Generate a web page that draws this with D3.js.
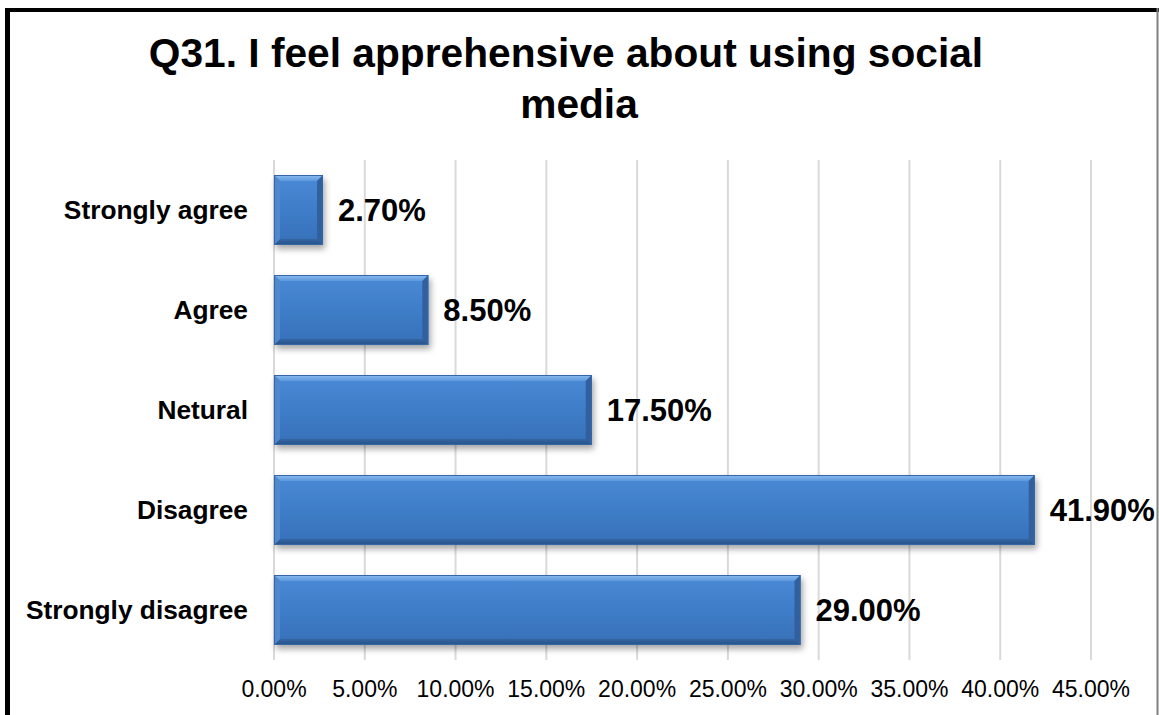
<!DOCTYPE html>
<html>
<head>
<meta charset="utf-8">
<script src="https://cdn.jsdelivr.net/npm/d3@7"></script>
<style>
	html, body { margin: 0; padding: 0; background: #fff; }
	svg { display: block; font-family: "Liberation Sans", Arial, sans-serif; }
</style>
</head>
<body>
<svg id="chart"></svg>
<script>
const width = 1159;
const height = 715;

// survey answers, top to bottom
const categories = ["Strongly agree", "Agree", "Netural", "Disagree", "Strongly disagree"];
const shares = [2.7, 8.5, 17.5, 41.9, 29.0];
const tickValues = [0, 5, 10, 15, 20, 25, 30, 35, 40, 45];
const titleLines = ["Q31. I feel apprehensive about using social", "media"];

const rows = categories.map((c, i) => ({ label: c, value: shares[i] }));

const svg = d3.select("#chart").attr("width", width).attr("height", height);

const x = d3.scaleLinear().domain([0, 45]).range([274, 1091]);
const y = d3.scaleBand().domain(categories).range([160, 660])
	.paddingInner(0.3).paddingOuter(0.15);

const defs = svg.append("defs");

const shadow = defs.append("filter").attr("id", "barShadow")
	.attr("x", "-10%").attr("y", "-20%").attr("width", "130%").attr("height", "160%");
shadow.append("feDropShadow")
	.attr("dx", 2).attr("dy", 4).attr("stdDeviation", 3)
	.attr("flood-color", "#000").attr("flood-opacity", 0.35);

function gradient(id, stops) {
	const g = defs.append("linearGradient").attr("id", id)
		.attr("x1", 0).attr("y1", 0).attr("x2", 0).attr("y2", 1);
	stops.forEach(([o, c]) => g.append("stop").attr("offset", o).attr("stop-color", c));
}
gradient("faceFill", [[0, "#4a8ad6"], [0.5, "#3f7dc8"], [1, "#3670b8"]]);
gradient("topBevel", [[0, "#8cbcf0"], [1, "#5c98dc"]]);
gradient("bottomBevel", [[0, "#33649f"], [1, "#27538a"]]);

// frame
svg.append("line").attr("x1", 7.5).attr("x2", 7.5).attr("y1", 8).attr("y2", height)
	.attr("stroke", "#000").attr("stroke-width", 5);
svg.append("line").attr("x1", 5).attr("x2", 1159).attr("y1", 10).attr("y2", 10)
	.attr("stroke", "#000").attr("stroke-width", 4);
svg.append("line").attr("x1", 1157.5).attr("x2", 1157.5).attr("y1", 8).attr("y2", height)
	.attr("stroke", "#7f7f7f").attr("stroke-width", 2);

// title
svg.append("text")
	.attr("text-anchor", "middle")
	.attr("font-size", 40.7)
	.attr("font-weight", "bold")
	.selectAll("tspan")
	.data(titleLines)
	.join("tspan")
	.attr("x", (d, i) => (i === 0 ? 566 : 579))
	.attr("y", (d, i) => 67 + i * 51)
	.text((d) => d);

// vertical gridlines
svg.append("g")
	.selectAll("line")
	.data(tickValues)
	.join("line")
	.attr("x1", (d) => x(d))
	.attr("x2", (d) => x(d))
	.attr("y1", 160)
	.attr("y2", 660)
	.attr("stroke", "#d9d9d9")
	.attr("stroke-width", 2);

// x tick labels
svg.append("g")
	.selectAll("text")
	.data(tickValues)
	.join("text")
	.attr("x", (d) => x(d))
	.attr("y", 697)
	.attr("text-anchor", "middle")
	.attr("font-size", 23)
	.attr("fill", "#000")
	.text((d) => d.toFixed(2) + "%");

// category labels
svg.append("g")
	.selectAll("text")
	.data(rows)
	.join("text")
	.attr("x", 248)
	.attr("y", (d) => y(d.label) + y.bandwidth() / 2 + 9)
	.attr("text-anchor", "end")
	.attr("font-size", 26.3)
	.attr("font-weight", "bold")
	.text((d) => d.label);

// bevelled bars
const bevel = 6;
const bars = svg.append("g")
	.selectAll("g")
	.data(rows)
	.join("g")
	.attr("filter", "url(#barShadow)");

bars.each(function (d) {
	const g = d3.select(this);
	const x0 = x(0), x1 = x(d.value);
	const y0 = y(d.label), y1 = y0 + y.bandwidth();
	const b = Math.min(bevel, (x1 - x0) / 2);
	g.append("rect")
		.attr("x", x0).attr("y", y0)
		.attr("width", x1 - x0).attr("height", y1 - y0)
		.attr("fill", "url(#faceFill)");
	const poly = (pts, fill) => g.append("polygon")
		.attr("points", pts.map((p) => p.join(",")).join(" "))
		.attr("fill", fill);
	poly([[x0, y0], [x1, y0], [x1 - b, y0 + b], [x0 + b, y0 + b]], "url(#topBevel)");
	poly([[x0, y1], [x1, y1], [x1 - b, y1 - b], [x0 + b, y1 - b]], "url(#bottomBevel)");
	poly([[x0, y0], [x0 + b, y0 + b], [x0 + b, y1 - b], [x0, y1]], "#4f88cc");
	poly([[x1, y0], [x1 - b, y0 + b], [x1 - b, y1 - b], [x1, y1]], "#30619e");
	g.append("rect")
		.attr("x", x0 + 0.5).attr("y", y0 + 0.5)
		.attr("width", x1 - x0 - 1).attr("height", y1 - y0 - 1)
		.attr("fill", "none")
		.attr("stroke", "#3466a6")
		.attr("stroke-width", 1);
});

// value labels
svg.append("g")
	.selectAll("text")
	.data(rows)
	.join("text")
	.attr("x", (d) => x(d.value) + 15)
	.attr("y", (d) => y(d.label) + y.bandwidth() / 2 + 11)
	.attr("font-size", 31)
	.attr("font-weight", "bold")
	.text((d) => d.value.toFixed(2) + "%");
</script>
</body>
</html>
